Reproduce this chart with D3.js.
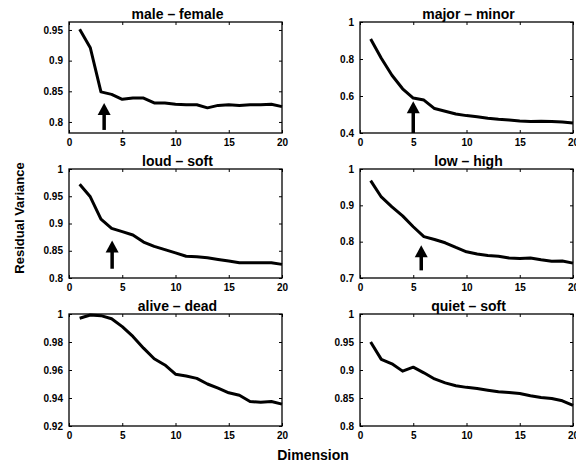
<!DOCTYPE html>
<html>
<head>
<meta charset="utf-8">
<script src="https://cdn.jsdelivr.net/npm/d3@7"></script>
<style>
  body { margin: 0; background: #fff; }
  svg { display: block; font-family: "Liberation Sans", Arial, Helvetica, sans-serif; }
</style>
</head>
<body>
<svg id="chart"></svg>
<script>
// dimensions 1..20
const dims = [1, 2, 3, 4, 5, 6, 7, 8, 9, 10, 11, 12, 13, 14, 15, 16, 17, 18, 19, 20];

const titles = ['male – female', 'major – minor', 'loud – soft', 'low – high', 'alive – dead', 'quiet – soft'];

// residual variance per panel
const maleFemale = [0.951, 0.921, 0.849, 0.845, 0.837, 0.839, 0.839, 0.831, 0.831, 0.829,
                    0.828, 0.828, 0.823, 0.827, 0.828, 0.827, 0.828, 0.828, 0.829, 0.825];
const majorMinor = [0.908, 0.804, 0.712, 0.639, 0.589, 0.578, 0.532, 0.518, 0.503, 0.494,
                    0.488, 0.480, 0.474, 0.470, 0.465, 0.462, 0.463, 0.462, 0.459, 0.454];
const loudSoft   = [0.972, 0.949, 0.908, 0.891, 0.885, 0.879, 0.866, 0.858, 0.852, 0.846,
                    0.840, 0.839, 0.837, 0.834, 0.831, 0.828, 0.828, 0.828, 0.828, 0.825];
const lowHigh    = [0.968, 0.923, 0.896, 0.871, 0.841, 0.814, 0.806, 0.797, 0.784, 0.772,
                    0.766, 0.762, 0.760, 0.755, 0.754, 0.755, 0.750, 0.746, 0.747, 0.741];
const aliveDead  = [0.997, 0.9993, 0.9988, 0.9966, 0.991, 0.984, 0.9756, 0.968, 0.9636, 0.957,
                    0.9557, 0.954, 0.950, 0.947, 0.9437, 0.942, 0.9375, 0.937, 0.9375, 0.9356];
const quietSoft  = [0.950, 0.919, 0.911, 0.898, 0.905, 0.895, 0.884, 0.877, 0.872, 0.869,
                    0.867, 0.864, 0.861, 0.860, 0.858, 0.854, 0.851, 0.849, 0.845, 0.837];

// y limits and ticks
const yDomains = [[0.782, 0.963], [0.4, 1], [0.8, 1], [0.7, 1], [0.92, 1], [0.8, 1]];
const yTicks = [
  [0.8, 0.85, 0.9, 0.95],
  [0.4, 0.6, 0.8, 1],
  [0.8, 0.85, 0.9, 0.95, 1],
  [0.7, 0.8, 0.9, 1],
  [0.92, 0.94, 0.96, 0.98, 1],
  [0.8, 0.85, 0.9, 0.95, 1]
];
const xTicks = [0, 5, 10, 15, 20];

// arrows: [x, bottom value, tip value], null = no arrow
const arrows = [[3.3, 0.787, 0.831], [5, 0.4, 0.572], [4.05, 0.817, 0.869], [5.75, 0.721, 0.790], null, null];

const series = [maleFemale, majorMinor, loudSoft, lowHigh, aliveDead, quietSoft];

const width = 576, height = 466;
const cols = [[69, 282], [360, 573]];
const rows = [[22, 133], [169, 278], [314, 426]];

const svg = d3.select('#chart')
  .attr('width', width)
  .attr('height', height);

const fmt = v => String(+v.toFixed(2));

series.forEach((vals, i) => {
  const [x0, x1] = cols[i % 2];
  const [y0, y1] = rows[Math.floor(i / 2)];

  const x = d3.scaleLinear().domain([0, 20]).range([x0, x1]);
  const y = d3.scaleLinear().domain(yDomains[i]).range([y1, y0]);

  const g = svg.append('g');

  // inside ticks on all four sides
  const tl = 3;
  g.append('g')
    .attr('transform', `translate(0,${y1})`)
    .call(d3.axisBottom(x).tickValues(xTicks).tickSize(-tl).tickPadding(6).tickFormat(d3.format('d')))
    .call(a => a.select('.domain').remove());
  g.append('g')
    .attr('transform', `translate(0,${y0})`)
    .call(d3.axisTop(x).tickValues(xTicks).tickSize(-tl).tickFormat(''))
    .call(a => a.select('.domain').remove());
  g.append('g')
    .attr('transform', `translate(${x0},0)`)
    .call(d3.axisLeft(y).tickValues(yTicks[i]).tickSize(-tl).tickPadding(6).tickFormat(fmt))
    .call(a => a.select('.domain').remove());
  g.append('g')
    .attr('transform', `translate(${x1},0)`)
    .call(d3.axisRight(y).tickValues(yTicks[i]).tickSize(-tl).tickFormat(''))
    .call(a => a.select('.domain').remove());

  g.selectAll('.tick line').attr('stroke', '#000').attr('stroke-width', 1);
  g.selectAll('.tick text')
    .attr('fill', '#000')
    .style('font-size', '10px')
    .style('font-weight', 'bold')
    .style('font-family', '"Liberation Sans", Arial, sans-serif');

  // frame
  g.append('rect')
    .attr('x', x0).attr('y', y0)
    .attr('width', x1 - x0).attr('height', y1 - y0)
    .attr('fill', 'none')
    .attr('stroke', '#000')
    .attr('stroke-width', 1.3);

  // curve
  const line = d3.line()
    .x((d, j) => x(dims[j]))
    .y(d => y(d));

  g.append('path')
    .datum(vals)
    .attr('d', line)
    .attr('fill', 'none')
    .attr('stroke', '#000')
    .attr('stroke-width', 3)
    .attr('stroke-linejoin', 'round');

  // arrow
  const ar = arrows[i];
  if (ar) {
    const ax = x(ar[0]);
    const yb = y(ar[1]);
    const yt = y(ar[2]);
    const headLen = 12, headW = 6.5;
    g.append('line')
      .attr('x1', ax).attr('x2', ax)
      .attr('y1', yb).attr('y2', yt + headLen - 1)
      .attr('stroke', '#000')
      .attr('stroke-width', 3.5);
    g.append('path')
      .attr('d', `M${ax},${yt} L${ax - headW},${yt + headLen} L${ax + headW},${yt + headLen} Z`)
      .attr('fill', '#000');
  }

  // title
  svg.append('text')
    .attr('x', (x0 + x1) / 2 + 2)
    .attr('y', y0 - 3)
    .attr('text-anchor', 'middle')
    .style('font-size', '14px')
    .style('font-weight', 'bold')
    .text(titles[i]);
});

svg.append('text')
  .attr('transform', 'translate(24,218) rotate(-90)')
  .attr('text-anchor', 'middle')
  .style('font-size', '13px')
  .style('font-weight', 'bold')
  .text('Residual Variance');

svg.append('text')
  .attr('x', 313)
  .attr('y', 460)
  .attr('text-anchor', 'middle')
  .style('font-size', '14px')
  .style('font-weight', 'bold')
  .text('Dimension');
</script>
</body>
</html>
